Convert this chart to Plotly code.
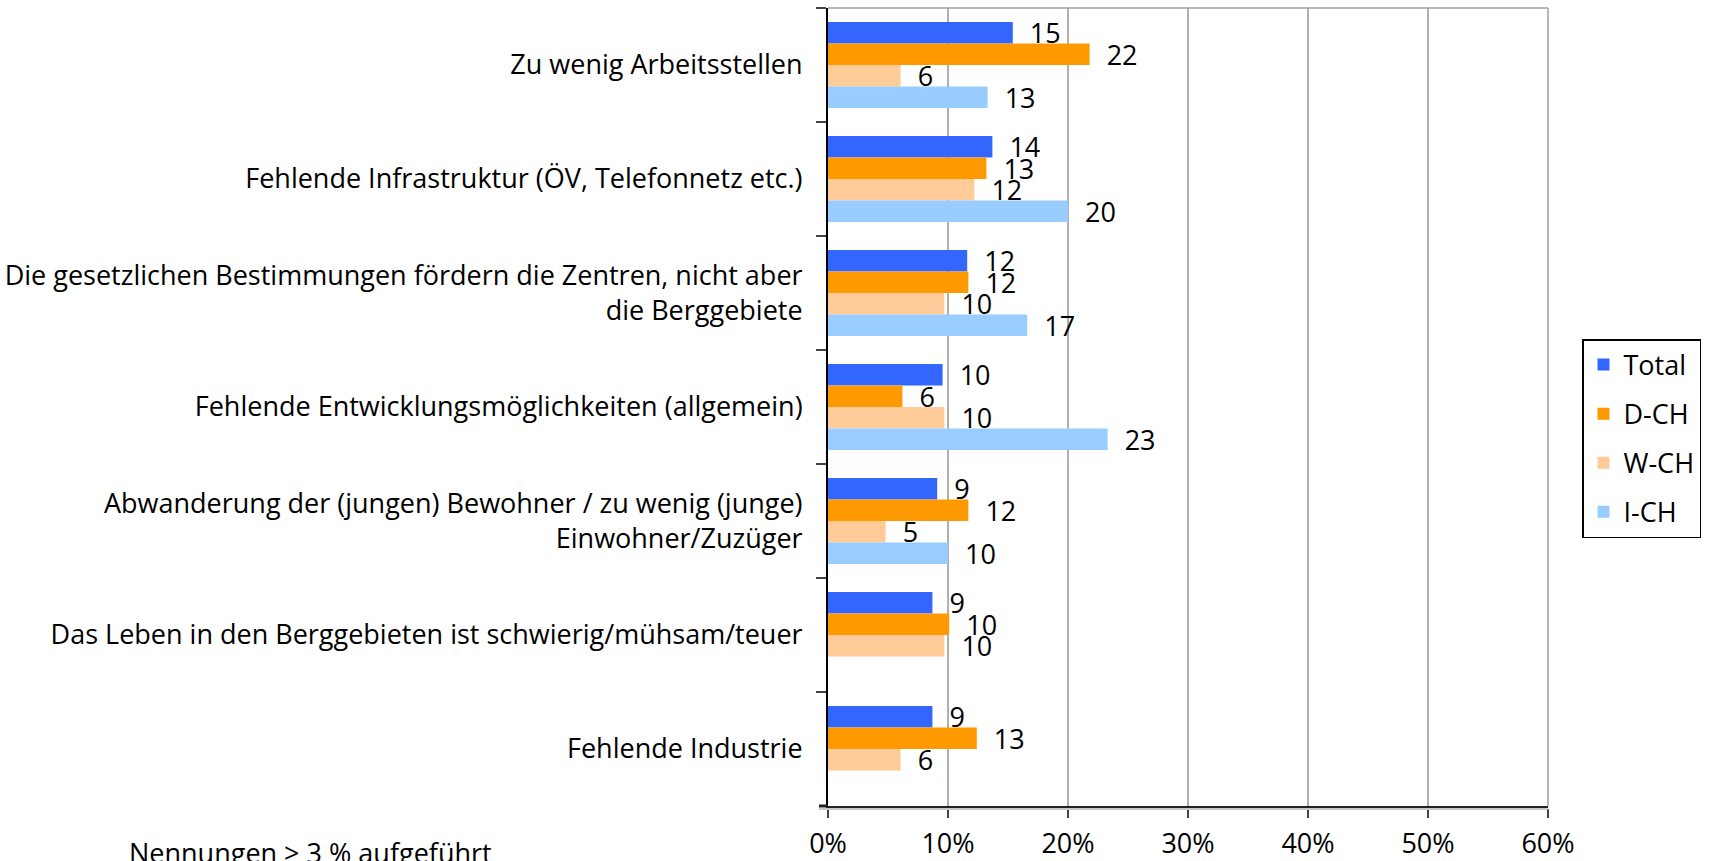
import plotly.graph_objects as go

categories = [
    "Zu wenig Arbeitsstellen",
    "Fehlende Infrastruktur (ÖV, Telefonnetz etc.)",
    "Die gesetzlichen Bestimmungen fördern die Zentren, nicht aber<br>die Berggebiete",
    "Fehlende Entwicklungsmöglichkeiten (allgemein)",
    "Abwanderung der (jungen) Bewohner / zu wenig (junge)<br>Einwohner/Zuzüger",
    "Das Leben in den Berggebieten ist schwierig/mühsam/teuer",
    "Fehlende Industrie",
]
series_names = ["Total", "D-CH", "W-CH", "I-CH"]
total_vals = [15.4, 13.7, 11.6, 9.55, 9.1, 8.7, 8.7]
dch_vals = [21.8, 13.2, 11.7, 6.2, 11.7, 10.1, 12.4]
wch_vals = [6.05, 12.2, 9.7, 9.7, 4.8, 9.7, 6.05]
ich_vals = [13.3, 20.0, 16.6, 23.3, 10.0, None, None]
total_labels = [15, 14, 12, 10, 9, 9, 9]
dch_labels = [22, 13, 12, 6, 12, 10, 13]
wch_labels = [6, 12, 10, 10, 5, 10, 6]
ich_labels = [13, 20, 17, 23, 10, None, None]
x_ticks = [0, 10, 20, 30, 40, 50, 60]
note = "Nennungen > 3 % aufgeführt"

colors = ["#3366FF", "#FF9900", "#FFCC99", "#99CCFF"]
values = [total_vals, dch_vals, wch_vals, ich_vals]
labels = [total_labels, dch_labels, wch_labels, ich_labels]

FONT = "Open Sans"
FS = 27

W, H = 1710, 861
ml, mr, mt, mb = 828, 162, 8, 55
pw, ph = W - ml - mr, H - mt - mb

fig = go.Figure()
for name, vals, labs, col in zip(series_names, values, labels, colors):
    fig.add_trace(go.Bar(
        y=categories, x=vals, orientation="h", name=name,
        marker=dict(color=col, line=dict(width=0)),
        text=["" if v is None else str(v) for v in labs],
        texttemplate="\u00a0\u00a0%{text}",
        textposition="outside", constraintext="none", cliponaxis=False,
        textfont=dict(family=FONT, size=FS, color="black"),
        legendgroup=name, hoverinfo="skip",
    ))

fig.update_layout(
    width=W, height=H,
    margin=dict(l=ml, r=mr, t=mt, b=mb, autoexpand=False),
    paper_bgcolor="white", plot_bgcolor="white",
    barmode="group", bargap=0.246, bargroupgap=0,
    font=dict(family=FONT, size=FS, color="black"),
    showlegend=True,
    legend=dict(
        x=(1582 - ml) / pw, y=(mt + ph - 339) / ph, xanchor="left", yanchor="top",
        bordercolor="black", borderwidth=1.5, bgcolor="white",
        font=dict(family=FONT, size=FS, color="black"),
        traceorder="grouped", tracegroupgap=11,
    ),
    xaxis=dict(
        range=[0, 60], tickvals=x_ticks, ticktext=[f"{t}%" for t in x_ticks],
        showgrid=True, gridcolor="#b0b0b0", gridwidth=1.5,
        showline=True, linecolor="#222222", linewidth=3,
        ticks="outside", ticklen=9, tickcolor="#444444", tickwidth=1.5,
        zeroline=False, ticklabelstandoff=3,
        tickfont=dict(family=FONT, size=FS, color="black"),
    ),
    yaxis=dict(
        autorange="reversed", type="category",
        showline=True, linecolor="black", linewidth=2,
        ticks="outside", tickson="boundaries", ticklen=10, tickcolor="#444444", tickwidth=1.5,
        showgrid=False, ticklabelstandoff=18,
        tickfont=dict(family=FONT, size=FS, color="black"),
    ),
    shapes=[
        dict(type="line", xref="paper", yref="paper", x0=0, x1=1, y0=1, y1=1,
             line=dict(color="#a0a0a0", width=1.5)),
        dict(type="line", xref="paper", yref="paper", x0=1, x1=1, y0=0, y1=1,
             line=dict(color="#a0a0a0", width=1.5)),
        dict(type="line", xref="paper", yref="paper", x0=-9 / pw, x1=0, y0=0, y1=0,
             line=dict(color="#222222", width=3)),
        dict(type="line", xref="paper", yref="paper", x0=-9 / pw, x1=1, y0=-3 / ph, y1=-3 / ph,
             line=dict(color="#c8c8c8", width=2)),
    ],
    annotations=[
        dict(text=note, xref="paper", yref="paper",
             x=(127 - ml) / pw, y=(mt + ph - 832) / ph, xanchor="left", yanchor="top",
             showarrow=False, font=dict(family=FONT, size=FS, color="black")),
    ],
)

fig.write_html("out.html", config={"displayModeBar": False})
with open("out.html", "r", encoding="utf-8") as f:
    html = f.read()
html = html.replace("<head>", "<head><style>html,body{margin:0;padding:0;overflow:hidden;}</style>", 1)
with open("out.html", "w", encoding="utf-8") as f:
    f.write(html)
